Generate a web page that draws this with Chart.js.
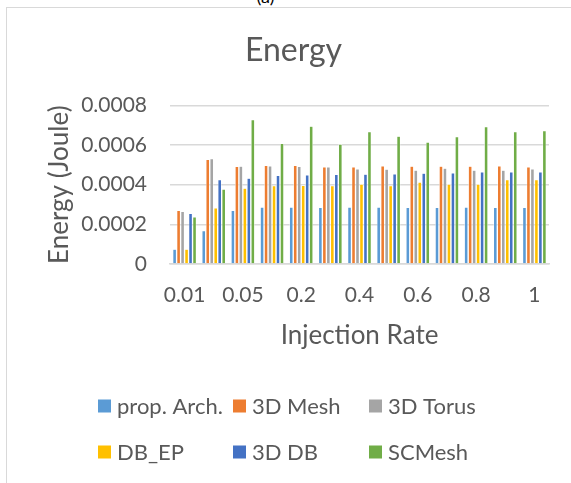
<!DOCTYPE html>
<html>
<head>
<meta charset="utf-8">
<script src="https://cdn.jsdelivr.net/npm/chart.js@4/dist/chart.umd.min.js"></script>
<style>
  html, body { margin: 0; padding: 0; background: #fff; overflow: hidden; }
  #wrap { position: relative; width: 571px; height: 483px; overflow: hidden; }
  #frame { position: absolute; left: 6px; top: 7px; width: 600px; height: 500px;
           border-left: 1.5px solid #d9d9d9; border-top: 1.5px solid #d9d9d9; }
  #caption { position: absolute; left: 0; width: 531px; top: -15px; text-align: center;
             font: 18px Lato, "Open Sans", sans-serif; color: #000; }
  canvas { position: absolute; left: 0; top: 0; }
</style>
</head>
<body>
<div id="wrap">
  <div id="caption">(a)</div>
  <div id="frame"></div>
  <canvas id="c" width="571" height="483"></canvas>
</div>
<script>
// Injection rates on the x axis
const rates = ['0.01', '0.03', '0.05', '0.1', '0.2', '0.3', '0.4', '0.5', '0.6', '0.7', '0.8', '0.9', '1'];

// Energy per architecture (Joule)
const propArch = [0.000075, 0.000168, 0.000270, 0.000287, 0.000287, 0.000285, 0.000287, 0.000287, 0.000285, 0.000285, 0.000287, 0.000285, 0.000285];
const mesh3D   = [0.000270, 0.000527, 0.000492, 0.000497, 0.000497, 0.000490, 0.000490, 0.000495, 0.000493, 0.000493, 0.000493, 0.000495, 0.000490];
const torus3D  = [0.000265, 0.000532, 0.000493, 0.000495, 0.000492, 0.000490, 0.000480, 0.000478, 0.000473, 0.000483, 0.000473, 0.000473, 0.000480];
const dbEP     = [0.000075, 0.000283, 0.000382, 0.000395, 0.000397, 0.000395, 0.000403, 0.000395, 0.000413, 0.000403, 0.000403, 0.000425, 0.000425];
const db3D     = [0.000255, 0.000425, 0.000433, 0.000447, 0.000450, 0.000452, 0.000453, 0.000455, 0.000458, 0.000460, 0.000465, 0.000465, 0.000465];
const scMesh   = [0.000237, 0.000378, 0.000728, 0.000608, 0.000695, 0.000605, 0.000668, 0.000645, 0.000615, 0.000643, 0.000693, 0.000668, 0.000673];

// Y axis ticks
const yTicks = [0, 0.0002, 0.0004, 0.0006, 0.0008];

const seriesNames  = ['prop. Arch.', '3D Mesh', '3D Torus', 'DB_EP', '3D DB', 'SCMesh'];
const seriesValues = [propArch, mesh3D, torus3D, dbEP, db3D, scMesh];
const seriesColors = ['#5B9BD5', '#ED7D31', '#A5A5A5', '#FFC000', '#4472C4', '#70AD47'];

const Y_TITLE = 'Energy (Joule)';
const FONT = 'Lato, "Open Sans", sans-serif';
const TEXT = '#595959';

// Rotated y-axis title, centred on the plot area
const yTitle = {
  id: 'yTitle',
  afterDraw(chart) {
    const ctx = chart.ctx;
    const area = chart.chartArea;
    ctx.save();
    ctx.translate(60, (area.top + area.bottom) / 2);
    ctx.rotate(-Math.PI / 2);
    ctx.font = '26px ' + FONT;
    ctx.fillStyle = TEXT;
    ctx.textAlign = 'center';
    ctx.textBaseline = 'middle';
    ctx.fillText(Y_TITLE, 0, 0);
    ctx.restore();
  }
};

// Legend laid out in a fixed three-column grid below the plot
const gridLegend = {
  id: 'gridLegend',
  afterDraw(chart) {
    const ctx = chart.ctx;
    const cols = [98, 233, 369];
    const rows = [406, 452];
    const box = 13;
    ctx.save();
    ctx.font = '22px ' + FONT;
    ctx.textBaseline = 'middle';
    ctx.textAlign = 'left';
    chart.data.datasets.forEach((ds, i) => {
      const x = cols[i % 3];
      const y = rows[Math.floor(i / 3)];
      ctx.fillStyle = ds.backgroundColor;
      ctx.fillRect(x, y - box / 2, box, box);
      ctx.fillStyle = TEXT;
      ctx.fillText(ds.label, x + box + 6, y + 1);
    });
    ctx.restore();
  }
};

new Chart(document.getElementById('c'), {
  type: 'bar',
  data: {
    labels: rates,
    datasets: seriesNames.map((name, i) => ({
      label: name,
      data: seriesValues[i],
      backgroundColor: seriesColors[i],
      borderColor: '#ffffff',
      borderWidth: 0.6,
      categoryPercentage: 0.82,
      barPercentage: 0.95
    }))
  },
  options: {
    responsive: false,
    animation: false,
    layout: { padding: { left: 38, right: 22, top: 0, bottom: 132 } },
    plugins: {
      legend: { display: false },
      tooltip: { enabled: false },
      title: {
        display: true,
        text: 'Energy',
        color: TEXT,
        font: { family: FONT, size: 32, weight: 'normal', lineHeight: 1.2 },
        padding: { top: 31, bottom: 36 }
      }
    },
    scales: {
      x: {
        grid: { display: false, drawTicks: false },
        border: { color: '#d9d9d9', width: 1.5 },
        ticks: {
          color: TEXT,
          font: { family: FONT, size: 21 },
          autoSkip: false,
          maxRotation: 0,
          padding: 19,
          callback: function (v, i) { return i % 2 === 0 ? this.getLabelForValue(v) : ''; }
        },
        title: {
          display: true,
          text: 'Injection Rate',
          color: TEXT,
          font: { family: FONT, size: 26, lineHeight: 1.2 },
          padding: { top: 12, bottom: 0 }
        },
        afterFit: (s) => { s.height = 87; }
      },
      y: {
        min: yTicks[0],
        max: yTicks[yTicks.length - 1],
        afterBuildTicks: (s) => { s.ticks = yTicks.map(v => ({ value: v })); },
        grid: { color: '#d9d9d9', lineWidth: 1.5, drawTicks: false },
        border: { display: false },
        ticks: {
          color: TEXT,
          font: { family: FONT, size: 21 },
          padding: 23,
          callback: (v) => v === 0 ? '0' : v.toFixed(4)
        },
        afterFit: (s) => { s.width = 132; }
      }
    }
  },
  plugins: [yTitle, gridLegend]
});
</script>
</body>
</html>
